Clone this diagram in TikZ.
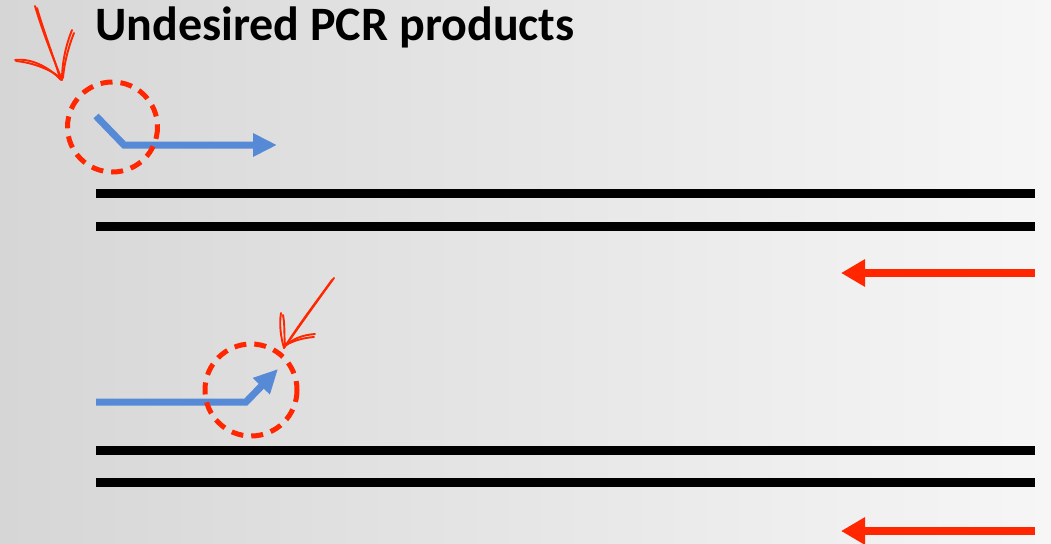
\documentclass[tikz,border=0pt]{standalone}
\usepackage{fontspec}
\setmainfont{Carlito}
\usetikzlibrary{arrows.meta}
\definecolor{strandblue}{RGB}{86,137,214}
\definecolor{markred}{RGB}{255,38,0}
\tikzset{
  strand/.style={line width=9pt, black},
  primerblue/.style={line width=7pt, strandblue, line join=miter,
    -{Triangle[length=24pt,width=22pt]}},
  primerred/.style={line width=8pt, markred, -{Triangle[length=24pt,width=26pt]}},
  ring/.style={line width=5pt, markred, dash pattern=on 12pt off 8pt},
  sketch/.style={line width=1.9pt, markred, line cap=round, line join=round},
}
\begin{document}
\begin{tikzpicture}[x=1pt,y=-1pt]
  % backdrop
  \shade[left color={rgb,255:red,214;green,214;blue,214}, right color={rgb,255:red,246;green,246;blue,246}]
    (0,0) rectangle (1051,543);
  \useasboundingbox (0,0) rectangle (1051,543);

  % title
  \node[anchor=base west, inner sep=0pt, font=\bfseries\fontsize{48}{48}\selectfont] (title) at (95,41) {Undesired PCR products};

  % upper template
  \draw[strand] (96,193) -- (1035,193);
  \draw[strand] (96,226) -- (1035,226);
  \draw[primerblue] (96,116) -- (124,145) -- (277,145);
  \draw[primerred] (1035,273) -- (841,273);
  \draw[ring] (112.5,127) circle[radius=45];

  % lower template
  \draw[strand] (96,450) -- (1035,450);
  \draw[strand] (96,482) -- (1035,482);
  \draw[primerblue] (96,402) -- (246,402) -- (278,369);
  \draw[primerred] (1035,531) -- (841,531);
  \draw[ring] (251,390) circle[radius=46];

  % hand-drawn pointer, top left
  \draw[sketch] (35,6) .. controls (42,30) and (52,55) .. (62,80);
  \draw[sketch] (37,8) .. controls (44,32) and (54,58) .. (60,78);
  \draw[sketch] (15,60) .. controls (30,58) and (48,66) .. (61,80);
  \draw[sketch] (16,61) .. controls (35,63) and (50,70) .. (58,76);
  \draw[sketch] (72,30) .. controls (66,45) and (62,62) .. (62,80);
  \draw[sketch] (74,33) .. controls (68,48) and (64,65) .. (63,78);

  % hand-drawn pointer, lower
  \draw[sketch] (334,278) .. controls (318,300) and (300,325) .. (284,348);
  \draw[sketch] (332,280) .. controls (316,302) and (298,326) .. (286,345);
  \draw[sketch] (281,313) .. controls (279,325) and (281,338) .. (284,348);
  \draw[sketch] (283,315) .. controls (285,325) and (284,336) .. (285,345);
  \draw[sketch] (315,334) .. controls (302,335) and (292,339) .. (284,347);
  \draw[sketch] (314,337) .. controls (302,338) and (293,341) .. (286,345);
\end{tikzpicture}
\end{document}
